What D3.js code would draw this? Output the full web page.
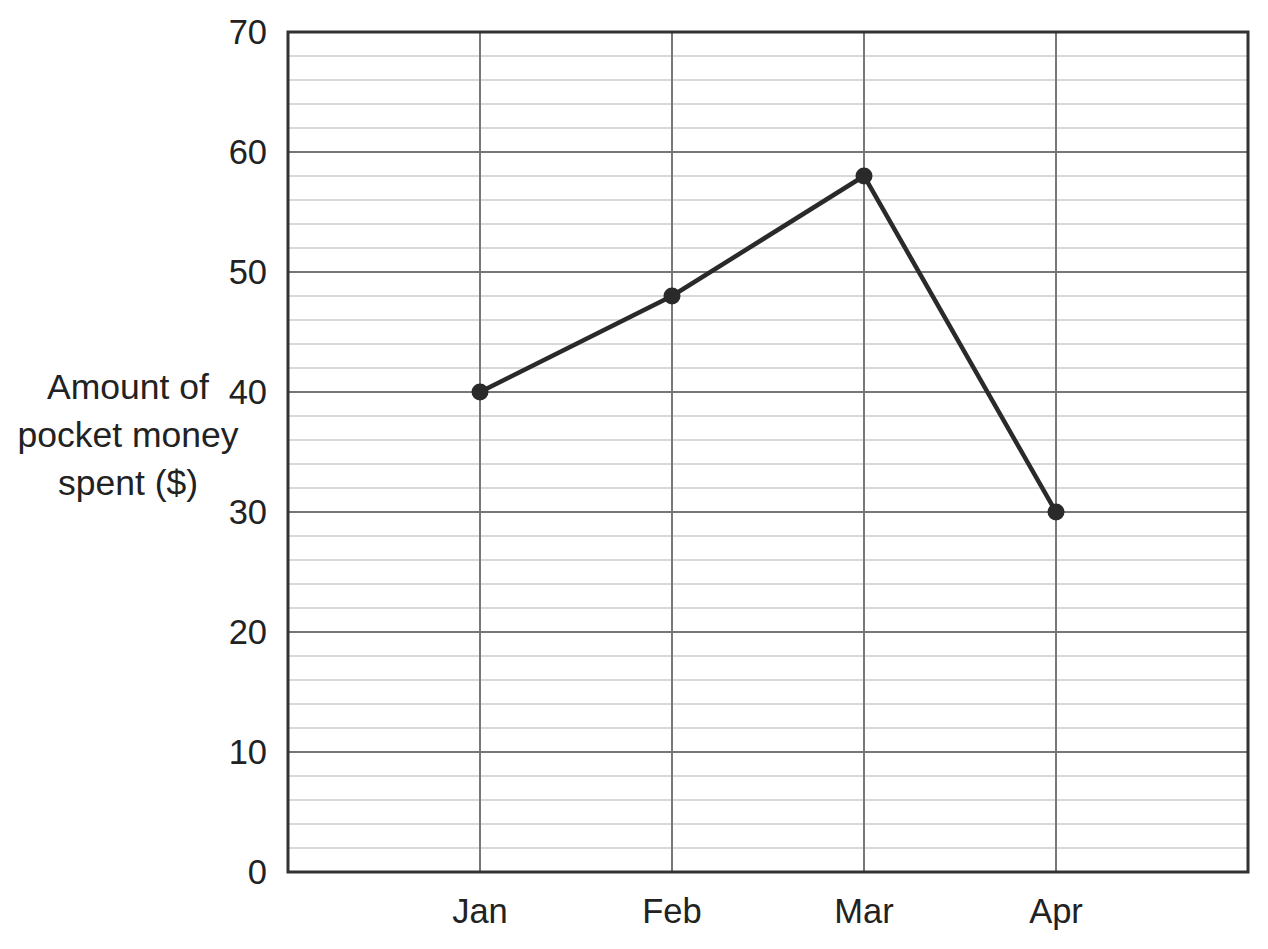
<!DOCTYPE html>
<html><head><meta charset="utf-8">
<script src="https://cdn.jsdelivr.net/npm/d3@7"></script>
<style>html,body{margin:0;padding:0;background:#fff;}</style>
</head><body>
<svg id="c" width="1268" height="949"></svg>
<script>
const months = ["Jan", "Feb", "Mar", "Apr"];
const spent = [40, 48, 58, 30];
const yTicks = [0, 10, 20, 30, 40, 50, 60, 70];
const yLabelLines = ["Amount of", "pocket money", "spent ($)"];

const svg = d3.select("#c");
const L = 288, R = 1248, T = 32, B = 872;
const font = "'Liberation Sans', Arial, sans-serif";
const x = d3.scalePoint().domain(["_s", ...months, "_e"]).range([L, R]);
const y = d3.scaleLinear().domain([0, 70]).range([B, T]);

// minor grid
const minor = d3.range(0, 71, 2).filter(v => v % 10 !== 0);
svg.append("g").selectAll("line").data(minor).join("line")
  .attr("x1", L).attr("x2", R).attr("y1", d => y(d)).attr("y2", d => y(d))
  .attr("stroke", "#cccccc").attr("stroke-width", 1.5);
// major grid
svg.append("g").selectAll("line").data(yTicks.filter(v => v > 0 && v < 70)).join("line")
  .attr("x1", L).attr("x2", R).attr("y1", d => y(d)).attr("y2", d => y(d))
  .attr("stroke", "#777777").attr("stroke-width", 2);
// vertical grid
svg.append("g").selectAll("line").data(months).join("line")
  .attr("x1", d => x(d)).attr("x2", d => x(d)).attr("y1", T).attr("y2", B)
  .attr("stroke", "#777777").attr("stroke-width", 2);
// border
svg.append("rect").attr("x", L).attr("y", T).attr("width", R - L).attr("height", B - T)
  .attr("fill", "none").attr("stroke", "#333333").attr("stroke-width", 3);

// y tick labels
svg.append("g").selectAll("text").data(yTicks).join("text")
  .attr("x", 267).attr("y", d => y(d) + 12)
  .attr("text-anchor", "end").attr("font-family", font).attr("font-size", 34.5)
  .attr("fill", "#222").text(d => d);
// x tick labels
svg.append("g").selectAll("text").data(months).join("text")
  .attr("x", d => x(d)).attr("y", 923)
  .attr("text-anchor", "middle").attr("font-family", font).attr("font-size", 34.5)
  .attr("fill", "#222").text(d => d);
// y axis title
svg.append("g").selectAll("text").data(yLabelLines).join("text")
  .attr("x", 128).attr("y", (d, i) => 399 + i * 48)
  .attr("text-anchor", "middle").attr("font-family", font).attr("font-size", 35.5)
  .attr("fill", "#222").text(d => d);

// line
const pts = months.map((m, i) => [m, spent[i]]);
svg.append("path").datum(pts)
  .attr("d", d3.line().x(d => x(d[0])).y(d => y(d[1])))
  .attr("fill", "none").attr("stroke", "#2a2a2a").attr("stroke-width", 4.5);
svg.append("g").selectAll("circle").data(pts).join("circle")
  .attr("cx", d => x(d[0])).attr("cy", d => y(d[1])).attr("r", 8.5)
  .attr("fill", "#2a2a2a");
</script>
</body></html>
